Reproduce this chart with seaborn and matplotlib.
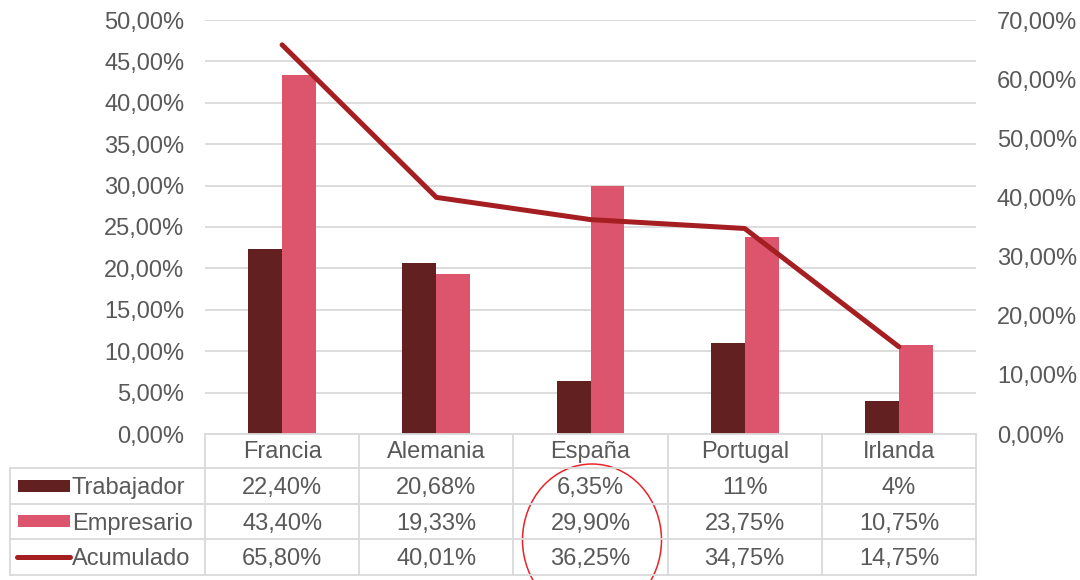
import numpy as np
import pandas as pd
import matplotlib
matplotlib.use("Agg")
import matplotlib.pyplot as plt
from matplotlib.patches import Ellipse, Rectangle
from matplotlib.lines import Line2D
import seaborn as sns

# Datos
paises = ["Francia", "Alemania", "España", "Portugal", "Irlanda"]
trabajador = [22.40, 20.68, 6.35, 11.0, 4.0]
empresario = [43.40, 19.33, 29.90, 23.75, 10.75]
acumulado = [65.80, 40.01, 36.25, 34.75, 14.75]
series = ["Trabajador", "Empresario", "Acumulado"]

c_trab = "#632020"
c_emp = "#DC556C"
c_acum = "#A41E22"
gris = "#595959"
rejilla = "#D9D9D9"
fs = 17


def fmt(v):
    if float(v).is_integer():
        return f"{int(v)}%"
    return f"{v:.2f}%".replace(".", ",")


def fmt_eje(v):
    return f"{v:.2f}%".replace(".", ",")


df = pd.DataFrame({"pais": paises * 2,
                   "serie": ["Trabajador"] * 5 + ["Empresario"] * 5,
                   "valor": trabajador + empresario})

sns.set_style("white")
plt.rcParams["font.family"] = ["Liberation Sans", "DejaVu Sans"]

W, H = 1080, 580
fig = plt.figure(figsize=(W / 100, H / 100), dpi=100)
x0, x1, y0, y1 = 205, 976, 20, 434
ax = fig.add_axes([x0 / W, (H - y1) / H, (x1 - x0) / W, (y1 - y0) / H])

sns.barplot(data=df, x="pais", y="valor", hue="serie", palette=[c_trab, c_emp],
            width=0.44, saturation=1, linewidth=0, legend=False, ax=ax, zorder=2)
ax.set_xlim(-0.5, 4.5)
ax.set_ylim(0, 50)
ticks_izq = np.arange(0, 51, 5)
ax.set_yticks(ticks_izq)
ax.set_yticklabels([fmt_eje(v) for v in ticks_izq])
ax.grid(axis="y", color=rejilla, lw=1.3, zorder=0)
ax.set_axisbelow(True)
ax.set_xlabel("")
ax.set_ylabel("")
ax.tick_params(axis="y", length=0, pad=15, labelsize=fs, labelcolor=gris)
ax.tick_params(axis="x", length=0, pad=5, labelsize=fs, labelcolor=gris)
for s in ["top", "right", "left"]:
    ax.spines[s].set_visible(False)
ax.spines["bottom"].set_color(rejilla)
ax.spines["bottom"].set_linewidth(1.3)

ax2 = ax.twinx()
sns.lineplot(x=np.arange(len(paises)), y=acumulado, ax=ax2, color=c_acum,
             lw=3.6, solid_capstyle="round", solid_joinstyle="round")
ax2.set_ylim(0, 70)
ticks_der = np.arange(0, 71, 10)
ax2.set_yticks(ticks_der)
ax2.set_yticklabels([fmt_eje(v) for v in ticks_der])
ax2.tick_params(axis="y", length=0, pad=15, labelsize=fs, labelcolor=gris)
for s in ax2.spines.values():
    s.set_visible(False)
ax2.set_xlim(-0.5, 4.5)

# Tabla de datos
ov = fig.add_axes([0, 0, 1, 1], zorder=5)
ov.set_xlim(0, W)
ov.set_ylim(H, 0)
ov.axis("off")
ov.patch.set_alpha(0)

filas = [434, 468, 503.5, 539, 574.5]
colw = (x1 - x0) / len(paises)
for y in filas[1:]:
    ov.add_line(Line2D([10, x1], [y, y], color=rejilla, lw=1.3))
for j in range(len(paises) + 1):
    xv = x0 + j * colw
    ov.add_line(Line2D([xv, xv], [filas[0], filas[-1]], color=rejilla, lw=1.3))
ov.add_line(Line2D([10, 10], [filas[1], filas[-1]], color=rejilla, lw=1.3))

valores = [trabajador, empresario, acumulado]
for i, (nombre, vals) in enumerate(zip(series, valores)):
    yc = (filas[i + 1] + filas[i + 2]) / 2
    if nombre == "Acumulado":
        ov.add_line(Line2D([17, 70], [yc, yc], color=c_acum, lw=3.6, solid_capstyle="round"))
    else:
        col = c_trab if nombre == "Trabajador" else c_emp
        ov.add_patch(Rectangle((18, yc - 6), 52, 12, color=col, lw=0))
    ov.text(72, yc, nombre, ha="left", va="center_baseline", fontsize=fs, color=gris)
    for j, v in enumerate(vals):
        ov.text(x0 + (j + 0.5) * colw, yc, fmt(v), ha="center", va="center_baseline",
                fontsize=fs, color=gris)

# Círculo rojo sobre España
ov.add_patch(Ellipse((592, 540), 139, 152, fill=False, edgecolor="#E8232A", lw=1.1))

fig.savefig("out.png", dpi=100)
